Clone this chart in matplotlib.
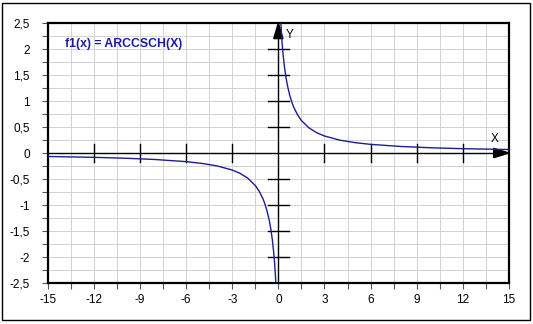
import matplotlib
matplotlib.use("Agg")
import matplotlib.pyplot as plt
from matplotlib.patches import Rectangle, Polygon
import numpy as np

# curve points (right and left branch)
pos_x = [0.165, 0.2, 0.25, 0.3, 0.4, 0.5, 0.6, 0.75, 0.9, 1.0, 1.25, 1.5, 2.0, 2.5,
         3.0, 4.0, 5.0, 6.0, 8.0, 10.0, 12.0, 15.0]
pos_y = [2.50, 2.312, 2.095, 1.919, 1.647, 1.444, 1.284, 1.099, 0.958, 0.881, 0.733, 0.625,
         0.481, 0.390, 0.327, 0.247, 0.199, 0.166, 0.125, 0.100, 0.083, 0.067]
neg_x = [-15.0, -12.0, -10.0, -8.0, -6.0, -5.0, -4.0, -3.0, -2.5, -2.0, -1.5, -1.25, -1.0,
         -0.9, -0.75, -0.6, -0.5, -0.4, -0.3, -0.25, -0.2, -0.165]
neg_y = [-0.067, -0.083, -0.100, -0.125, -0.166, -0.199, -0.247, -0.327, -0.390, -0.481,
         -0.625, -0.733, -0.881, -0.958, -1.099, -1.284, -1.444, -1.647, -1.919, -2.095,
         -2.312, -2.50]

x_ticks = [-15, -12, -9, -6, -3, 0, 3, 6, 9, 12, 15]
y_ticks = [-2.5, -2, -1.5, -1, -0.5, 0, 0.5, 1, 1.5, 2, 2.5]
y_labels = ["-2,5", "-2", "-1,5", "-1", "-0,5", "0", "0,5", "1", "1,5", "2", "2,5"]
axis_marks_x = [-12, -9, -6, -3, 3, 6, 9, 12]
axis_marks_y = [-2, -1.5, -1, -0.5, 0.5, 1, 1.5, 2]
title = "f1(x) = ARCCSCH(X)"

plt.rcParams["font.family"] = ["Liberation Sans", "DejaVu Sans"]

fig = plt.figure(figsize=(5.33, 3.24), dpi=100)
fig.patch.set_facecolor("white")
fig.patches.append(Rectangle((0.004, 0.011), 0.99, 0.979, transform=fig.transFigure,
                             fill=False, edgecolor="black", linewidth=1.0))

ax = fig.add_axes([0.0895, 0.1265, 0.8655, 0.8025])
ax.set_xlim(-15, 15)
ax.set_ylim(-2.5, 2.5)

# grid every 1.5 in x and 0.25 in y
ax.set_xticks(x_ticks)
ax.set_xticklabels([str(v) for v in x_ticks])
ax.set_yticks(y_ticks)
ax.set_yticklabels(y_labels)
ax.set_xticks(np.arange(-15, 15.01, 1.5), minor=True)
ax.set_yticks(np.arange(-2.5, 2.51, 0.25), minor=True)
ax.grid(True, which="both", color="#d2d2d2", linewidth=0.7)
ax.set_axisbelow(True)
ax.tick_params(which="both", direction="out", length=4, width=0.8, color="#555555",
               labelsize=8.5)
ax.tick_params(axis="y", pad=9)
ax.tick_params(axis="x", pad=4)
for s in ax.spines.values():
    s.set_linewidth(1.6)
    s.set_color("black")

# central axes with arrows
ax.plot([-15, 14.2], [0, 0], color="black", linewidth=1.0, zorder=3)
ax.plot([0, 0], [-2.5, 2.25], color="black", linewidth=1.0, zorder=3)
ax.add_patch(Polygon([[14.0, 0.09], [15.0, 0.0], [14.0, -0.09]], closed=True,
                     color="black", zorder=4, clip_on=False))
ax.add_patch(Polygon([[-0.3, 2.2], [0.0, 2.5], [0.3, 2.2]], closed=True,
                     color="black", zorder=4, clip_on=False))
for xv in axis_marks_x:
    ax.plot([xv, xv], [-0.18, 0.18], color="black", linewidth=1.0, zorder=3)
for yv in axis_marks_y:
    ax.plot([-0.68, 0.68], [yv, yv], color="black", linewidth=1.0, zorder=3)
ax.text(14.05, 0.15, "X", fontsize=8.5, ha="center", va="bottom")
ax.text(0.5, 2.27, "Y", fontsize=8.5, ha="left", va="center")

ax.plot(pos_x, pos_y, color="#1e1e8c", linewidth=1.0, zorder=5)
ax.plot(neg_x, neg_y, color="#1e1e8c", linewidth=1.0, zorder=5)

ax.text(-13.85, 2.09, title, fontsize=8.8, fontweight="bold", color="#1a1aa8",
        ha="left", va="center")

fig.savefig("out.png", dpi=100)
